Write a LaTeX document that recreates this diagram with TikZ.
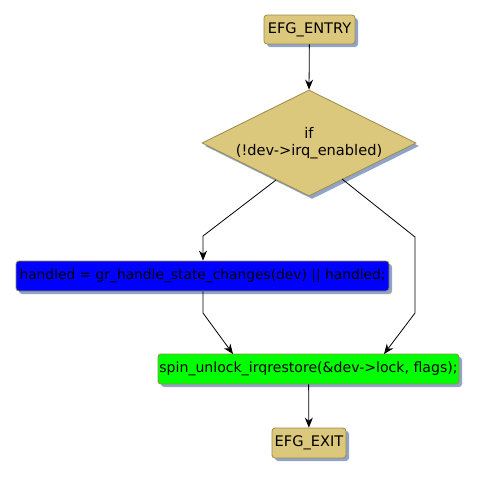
\documentclass[tikz,border=0pt]{standalone}
\usepackage{fontspec}
\setmainfont{DejaVu Sans}
\usetikzlibrary{positioning, shapes.geometric, arrows.meta, shadows}
\definecolor{tan}{HTML}{DCC87C}
\definecolor{tanline}{HTML}{9A8A4A}
\definecolor{shade}{HTML}{8FA4C8}

\begin{document}
\begin{tikzpicture}[x=1pt, y=-1pt,
    every node/.style={font=\fontsize{14.6}{17.5}\selectfont},
    sh/.style={drop shadow={shadow xshift=3pt, shadow yshift=-3pt, fill=shade, opacity=1}},
    box/.style={draw=tanline, line width=0.8pt, rounded corners=3pt, inner sep=0pt, sh},
    cond/.style={diamond, aspect=2.02, draw=tanline, line width=0.8pt, fill=tan, inner sep=0pt,
        align=center, minimum width=214pt, minimum height=106pt, sh},
    flow/.style={-{Stealth[length=10pt, width=8pt]}, line width=0.8pt, black}]
    \useasboundingbox (0,0) rectangle (478,477);

    % Nodes
    \node[box, fill=tan, minimum width=91pt, minimum height=29pt] (entry) at (309.5,29.5) {EFG\_ENTRY};
    \node[cond] (irq) at (309,143) {if\\(!dev->irq\_enabled)};
    \node[box, fill=blue, minimum width=373pt, minimum height=30pt,
        font=\fontsize{13.8}{16}\selectfont] (handled) at (202.5,276)
        {handled = gr\_handle\_state\_changes(dev) || handled;};
    \node[box, fill=green, minimum width=301pt, minimum height=30pt,
        font=\fontsize{14.1}{17}\selectfont] (unlock) at (308.5,369)
        {spin\_unlock\_irqrestore(\&dev->lock, flags);};
    \node[box, fill=tan, minimum width=74pt, minimum height=30pt] (exit) at (309,443) {EFG\_EXIT};

    % Bend points
    \coordinate (l1) at (276,180);
    \coordinate (l2) at (203,236);
    \coordinate (r1) at (342,179);
    \coordinate (r2) at (415,237);
    \coordinate (r3) at (415,313);
    \coordinate (h1) at (203,313);
    \coordinate (u1) at (233,354);
    \coordinate (u2) at (384,354);

    % Edges
    \draw[flow] (entry) -- (irq.north);
    \draw[flow] (l1) -- (l2) -- (handled.north -| l2);
    \draw[flow] (r1) -- (r2) -- (r3) -- (u2);
    \draw[flow] (handled.south -| h1) -- (h1) -- (u1);
    \draw[flow] (unlock) -- (exit);
\end{tikzpicture}
\end{document}
